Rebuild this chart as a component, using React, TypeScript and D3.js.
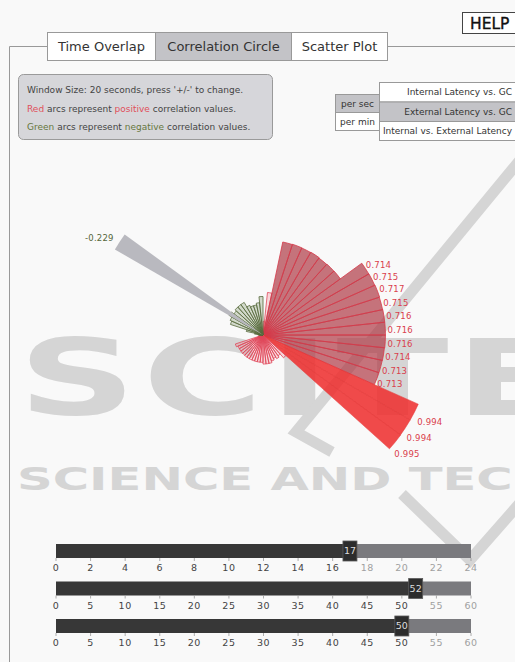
import React from "react";
import * as d3 from "d3";

// correlation value for each of the 60 one-second steps of the window (clockwise from north)
const correlations: number[] = [
  0.08, 0.25,
  0.556, 0.558, 0.557, 0.559, 0.556, 0.558, 0.559,
  0.714, 0.715, 0.717, 0.715, 0.716, 0.716, 0.716, 0.714, 0.713, 0.713,
  0.994, 0.994, 0.995,
  0.18, 0.15, 0.16, 0.15, 0.16, 0.17, 0.17, 0.17, 0.16, 0.16,
  0.16, 0.16, 0.16, 0.16, 0.16, 0.16, 0.16, 0.16, 0.16, 0.17,
  0.03, 0.02, -0.02, -0.03, -0.05, -0.1,
  -0.2, -0.21, -0.229, -0.21, -0.22, -0.22, -0.22, -0.19, -0.18, -0.18, -0.19, -0.225,
];
const highlightIndex = 50;
const labelThreshold = 0.7;

const tabNames = ["Time Overlap", "Correlation Circle", "Scatter Plot"];
const activeTab = 1;
const rateOptions = ["per sec", "per min"];
const activeRate = 0;
const pairNames = ["Internal Latency vs. GC", "External Latency vs. GC", "Internal vs. External Latency"];
const activePair = 1;

const sliderMaxima = [24, 60, 60];
const sliderValues = [17, 52, 50];

const FONT = "'DejaVu Sans', Verdana, sans-serif";

function Wedges() {
  const cx = 263;
  const cy = 335;
  const n = correlations.length;
  const angle = d3.scaleLinear().domain([0, n]).range([0, 2 * Math.PI]);
  const radius = d3.scaleLinear().domain([0, 1]).range([0, 171]);
  const arc = d3.arc<any>();

  const style = (v: number) => {
    if (v < 0) return { fill: "rgba(178,192,166,0.55)", stroke: "#56683a", sw: 0.8 };
    if (v >= 0.9) return { fill: "rgba(238,44,44,0.85)", stroke: "#e23838", sw: 0.5 };
    if (v >= 0.5) return { fill: "rgba(172,52,64,0.68)", stroke: "#d63a4a", sw: 0.8 };
    return { fill: "rgba(240,90,104,0.22)", stroke: "#e0485a", sw: 0.8 };
  };

  const items = correlations.map((v, i) => ({ v, i, a0: angle(i), a1: angle(i + 1) }));
  const deg = Math.PI / 180;

  return (
    <g transform={`translate(${cx},${cy})`}>
      {items.map((d) => {
        const s = style(d.v);
        return (
          <path
            key={d.i}
            d={arc({ innerRadius: 0, outerRadius: radius(Math.abs(d.v)), startAngle: d.a0, endAngle: d.a1 }) || ""}
            fill={s.fill}
            stroke={s.stroke}
            strokeWidth={s.sw}
          />
        );
      })}
      <path
        d={arc({ innerRadius: 0, outerRadius: radius(1), startAngle: angle(highlightIndex), endAngle: angle(highlightIndex + 1) }) || ""}
        fill="#b9b9bf"
      />
      {items
        .filter((d) => Math.abs(d.v) > labelThreshold || d.i === highlightIndex)
        .map((d) => {
          const base = d.i === highlightIndex ? radius(1) : radius(Math.abs(d.v));
          const r = base * 1.1 - 10;
          const mid = (d.a0 + d.a1) / 2;
          // spread labels slightly away from the horizontal for readability
          const a = d.v < 0 ? mid : mid + (mid - Math.PI / 2) * 0.06 + 0.8 * deg;
          const x = Math.sin(a) * r;
          const y = -Math.cos(a) * r;
          return (
            <text
              key={"l" + d.i}
              x={x}
              y={y}
              dy="0.35em"
              textAnchor={x >= 0 ? "start" : "end"}
              fontSize={8.5}
              fontFamily={FONT}
              fill={d.v < 0 ? "#55663a" : "#d9404c"}
              letterSpacing={0.2}
            >
              {d.v.toFixed(3)}
            </text>
          );
        })}
    </g>
  );
}

function Slider({ max, value, index }: { max: number; value: number; index: number }) {
  const y0 = 544 + index * 37.5;
  const h = 14;
  const x = d3.scaleLinear().domain([0, max]).range([56, 471]);
  const ticks = x.ticks(12);
  const hx = x(value);
  return (
    <g>
      <rect x={x(0)} y={y0} width={hx - x(0)} height={h} fill="#373737" />
      <rect x={hx} y={y0} width={x(max) - hx} height={h} fill="#7a7a7e" />
      {ticks.map((t) => (
        <g key={t}>
          <line x1={x(t)} x2={x(t)} y1={y0 + h} y2={y0 + h + 3} stroke="#999" strokeWidth={0.8} />
          <text
            x={x(t)}
            y={y0 + h + 13}
            textAnchor="middle"
            fontSize={9.5}
            fontFamily={FONT}
            fill={t <= value ? "#444" : "#a0a0a0"}
            letterSpacing={0.5}
          >
            {t}
          </text>
        </g>
      ))}
      <rect x={hx - 7} y={y0 - 3} width={14} height={20} fill="#2c2c2c" stroke="#5a5a5a" strokeWidth={0.8} />
      <text x={hx} y={y0 + 7} dy="0.35em" textAnchor="middle" fontSize={9.5} fontFamily={FONT} fill="#ddd">
        {value}
      </text>
    </g>
  );
}

export default function App() {
  const tabX = [47, 155, 291, 387];
  const rowY = [82, 101.5, 121, 140];
  const rateY = [94, 112, 130];
  return (
    <svg
      width={515}
      height={662}
      style={{ position: "absolute", left: 0, top: 0, fontFamily: FONT }}
    >
      <rect x={0} y={0} width={515} height={662} fill="#f9f9f9" />

      {/* watermark */}
      <g fill="#d5d5d5" fontFamily="'DejaVu Sans', sans-serif" fontWeight="bold">
        <text transform="translate(18,415) scale(1.55,1)" fontSize={106} letterSpacing={4}>SCITE</text>
        <text transform="translate(17,490) scale(1.55,1)" fontSize={32}>SCIENCE AND TECHNOLOGY</text>
      </g>
      <g fill="none" stroke="#d5d5d5" strokeWidth={11}>
        <path d="M520,160 L296,432 L332,452" />
        <path d="M402,494 L470,560 L520,503" />
      </g>

      {/* frame */}
      <line x1={9.5} x2={9.5} y1={46.5} y2={662} stroke="#999" />
      <line x1={9.5} x2={47} y1={46.5} y2={46.5} stroke="#999" />
      <line x1={387} x2={515} y1={46.5} y2={46.5} stroke="#999" />

      {/* HELP */}
      <rect x={462.5} y={12.5} width={60} height={21} fill="#fff" stroke="#444" />
      <text x={470} y={23} dy="0.36em" fontSize={15.5} fill="#111" stroke="#111" strokeWidth={0.35}>HELP</text>

      {/* tabs */}
      {tabNames.map((name, i) => (
        <g key={name}>
          <rect
            x={tabX[i] + 0.5}
            y={32.5}
            width={tabX[i + 1] - tabX[i]}
            height={28}
            fill={i === activeTab ? "#c3c3c7" : "#fff"}
            stroke="#999"
          />
          <text x={(tabX[i] + tabX[i + 1]) / 2 + 0.5} y={46.5} dy="0.36em" textAnchor="middle" fontSize={13} fill="#333">
            {name}
          </text>
        </g>
      ))}

      {/* info box */}
      <rect x={18.5} y={74.5} width={254} height={65} rx={5} fill="#d6d6da" stroke="#9a9a9a" />
      <g fontSize={9} fill="#444">
        <text x={27} y={89.5} dy="0.35em">Window Size: 20 seconds, press '+/-' to change.</text>
        <text x={27} y={108.5} dy="0.35em">
          <tspan fill="#e0505a">Red</tspan> arcs represent <tspan fill="#e0505a">positive</tspan> correlation values.
        </text>
        <text x={27} y={127} dy="0.35em">
          <tspan fill="#66763e">Green</tspan> arcs represent <tspan fill="#66763e">negative</tspan> correlation values.
        </text>
      </g>

      {/* rate selector */}
      {rateOptions.map((r, i) => (
        <g key={r}>
          <rect x={335.5} y={rateY[i] + 0.5} width={44} height={rateY[i + 1] - rateY[i]} fill={i === activeRate ? "#c3c3c7" : "#fff"} stroke="#999" />
          <text x={357.5} y={(rateY[i] + rateY[i + 1]) / 2 + 0.5} dy="0.35em" textAnchor="middle" fontSize={9} fill="#333">
            {r}
          </text>
        </g>
      ))}

      {/* pair selector */}
      {pairNames.map((p, i) => (
        <g key={p}>
          <rect x={379.5} y={rowY[i] + 0.5} width={145} height={rowY[i + 1] - rowY[i]} fill={i === activePair ? "#c3c3c7" : "#fff"} stroke="#999" />
          <text x={512} y={(rowY[i] + rowY[i + 1]) / 2 + 0.5} dy="0.35em" textAnchor="end" fontSize={9} fill="#333">
            {p}
          </text>
        </g>
      ))}

      <Wedges />

      {sliderMaxima.map((m, i) => (
        <Slider key={i} max={m} value={sliderValues[i]} index={i} />
      ))}
    </svg>
  );
}
